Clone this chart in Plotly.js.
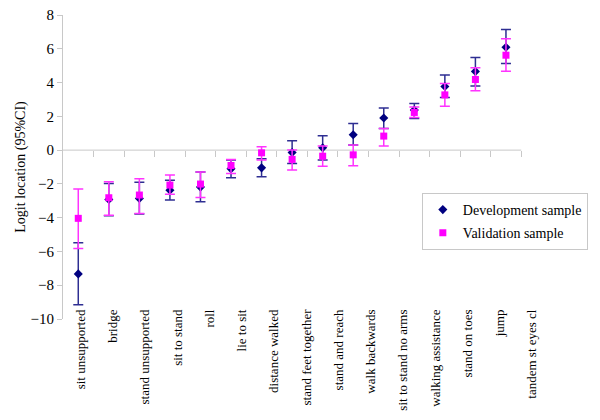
<!DOCTYPE html>
<html>
<head>
<meta charset="utf-8">
<script src="https://cdn.plot.ly/plotly-3.0.1.min.js"></script>
<style>html,body{margin:0;padding:0;background:#fff;}#chart{width:600px;height:420px;}</style>
</head>
<body>
<div id="chart"></div>
<script>
const categories = ["sit unsupported", "bridge", "stand unsupported", "sit to stand", "roll", "lie to sit",
  "distance walked", "stand feet together", "stand and reach", "walk backwards", "sit to stand no arms",
  "walking assistance", "stand on toes", "jump", "tandem st eyes cl"];

const devValue = [-7.33, -2.92, -2.86, -2.37, -2.19, -1.11, -1.05, -0.14, 0.14, 0.91, 1.90, 2.37, 3.77, 4.66, 6.09];
const devUpper = [-5.48, -1.97, -1.91, -1.78, -1.30, -0.59, -0.51, 0.55, 0.85, 1.58, 2.50, 2.76, 4.44, 5.48, 7.14];
const devLower = [-9.15, -3.89, -3.79, -2.96, -3.06, -1.64, -1.58, -0.79, -0.59, 0.30, 1.28, 1.87, 3.12, 3.79, 5.13];

const valValue = [-4.04, -2.82, -2.66, -2.07, -2.01, -0.91, -0.16, -0.55, -0.36, -0.28, 0.83, 2.23, 3.27, 4.18, 5.62];
const valUpper = [-2.31, -1.87, -1.70, -1.48, -1.30, -0.55, 0.20, 0.00, 0.24, 0.30, 1.28, 2.56, 3.94, 4.87, 6.59];
const valLower = [-5.82, -3.85, -3.75, -2.62, -2.80, -1.38, -0.59, -1.18, -0.95, -0.93, 0.24, 1.93, 2.60, 3.51, 4.67];

const yTickVals = [-10, -8, -6, -4, -2, 0, 2, 4, 6, 8];

const serif = "'Liberation Serif', 'Times New Roman', Times, serif";
const yMin = -10, yMax = 8;
const n = categories.length;
const idx = categories.map((c, i) => i);

// empty helper traces so that the tick-only and label-only axes get drawn (no visible marks)
const axisHelper2 = {type: "scatter", mode: "markers", x: idx, y: idx.map(() => null),
  xaxis: "x2", showlegend: false, hoverinfo: "skip"};
const axisHelper3 = {type: "scatter", mode: "markers", x: idx, y: idx.map(() => null),
  xaxis: "x3", showlegend: false, hoverinfo: "skip"};

const dev = {
  type: "scatter", mode: "markers", name: "Development sample",
  x: categories, y: devValue, legendgroup: "a",
  marker: {symbol: "diamond", size: 7, color: "#000080"},
  error_y: {type: "data", symmetric: false,
    array: devUpper.map((u, i) => u - devValue[i]),
    arrayminus: devLower.map((l, i) => devValue[i] - l),
    color: "#2e2e92", thickness: 1.5, width: 5}
};
const val = {
  type: "scatter", mode: "markers", name: "Validation sample",
  x: categories, y: valValue, legendgroup: "b",
  marker: {symbol: "square", size: 7, color: "#ff00ff"},
  error_y: {type: "data", symmetric: false,
    array: valUpper.map((u, i) => u - valValue[i]),
    arrayminus: valLower.map((l, i) => valValue[i] - l),
    color: "#ff33ff", thickness: 1.5, width: 5}
};

// plot area 63..563 px; categories occupy 63..524 px (30.73 px each)
const xRange = [-0.5, -0.5 + 500 / (461 / n)];

const layout = {
  width: 600, height: 420,
  margin: {l: 63, r: 37, t: 15, b: 101},
  paper_bgcolor: "#fff", plot_bgcolor: "rgba(0,0,0,0)",
  font: {family: serif, color: "#000", size: 14},
  showlegend: true,
  legend: {x: 0.722, y: 0.4145, xanchor: "left", yanchor: "top",
    bordercolor: "#c8c8c8", borderwidth: 1, bgcolor: "#fff",
    font: {family: serif, size: 14, color: "#000"},
    traceorder: "grouped", tracegroupgap: 2, itemwidth: 30},
  xaxis: {
    type: "category", range: xRange,
    anchor: "y", showline: false, ticks: "", showgrid: false, zeroline: false,
    showticklabels: false
  },
  xaxis2: {
    overlaying: "x", type: "linear", range: xRange, anchor: "free",
    position: (0 - yMin) / (yMax - yMin),
    showline: false,
    ticks: "outside", ticklen: 6, tickcolor: "#c8c8c8", tickwidth: 1,
    tickmode: "array", tickvals: idx.map(i => i + 0.5),
    showticklabels: false, showgrid: false, zeroline: false
  },
  xaxis3: {
    overlaying: "x", type: "linear", range: [-0.549, 14.864], anchor: "free", position: 0.043,
    tickmode: "array", tickvals: idx, ticktext: categories,
    showline: false, ticks: "", showgrid: false, zeroline: false,
    tickangle: -90, tickfont: {family: serif, size: 13, color: "#000"}
  },
  yaxis: {
    range: [yMin, yMax], tickvals: yTickVals,
    showline: true, linecolor: "#c8c8c8", linewidth: 1,
    ticks: "outside", ticklen: 5, tickcolor: "#c8c8c8",
    showgrid: false, zeroline: false,
    tickfont: {family: serif, size: 15, color: "#000"},
    title: {text: "Logit location (95%CI)", font: {family: serif, size: 14, color: "#000"}}
  },
  shapes: [{type: "line", xref: "x", yref: "y", x0: -0.5, x1: n - 0.5, y0: 0, y1: 0,
    line: {color: "#c8c8c8", width: 1}, layer: "below"}]
};

Plotly.newPlot("chart", [axisHelper2, axisHelper3, dev, val], layout, {displayModeBar: false, staticPlot: true});
</script>
</body>
</html>
